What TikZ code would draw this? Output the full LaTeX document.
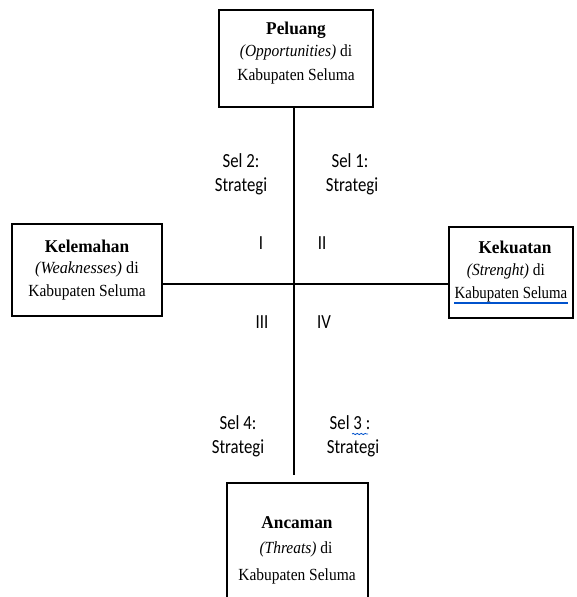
\documentclass[tikz,border=0pt]{standalone}
\usepackage{fontspec}
\setmainfont{Liberation Serif}
\newfontfamily\lblfont{Carlito}
\usetikzlibrary{decorations.pathmorphing}
\begin{document}
\begin{tikzpicture}[x=1pt,y=-1pt,
  box/.style={draw,line width=2.6pt,fill=white},
  axis/.style={line width=2.6pt},
  ttl/.style={font=\fontsize{18}{20}\selectfont\bfseries,xscale=0.96},
  txt/.style={font=\fontsize{17}{18}\selectfont,xscale=0.91},
  lbl/.style={font=\lblfont\fontsize{20}{22}\selectfont,xscale=0.84}]
\useasboundingbox (0,0) rectangle (577,597);
\begin{scope}
\clip (0,0) rectangle (577,597);
\coordinate (c) at (294,284);
\draw[box] (219,10) rectangle (373,107);
\coordinate (pb) at (294,107);
\draw[box] (12,224) rectangle (162,316);
\coordinate (lr) at (162,284);
\draw[box] (449,227) rectangle (573,318);
\coordinate (rl) at (449,284);
\draw[box] (227,483) rectangle (368,620);
\coordinate (at) at (294,475);
\draw[axis] (pb) -- (at);
\draw[axis] (lr) -- (rl);
\end{scope}
% top box texts
\node[ttl] (p1) at (296,30) {Peluang};
\node[txt] (p2) at (296,52) {\itshape (Opportunities)\upshape{} di};
\node[txt] (p3) at (296,76) {Kabupaten Seluma};
% left
\node[ttl] (l1) at (87,246) {Kelemahan};
\node[txt,xscale=1.05] (l2) at (87,269) {\itshape (Weaknesses)\upshape{} di};
\node[txt] (l3) at (87,292) {Kabupaten Seluma};
% right
\node[ttl] (r1) at (515,247) {Kekuatan};
\node[txt] (r2) at (506,271) {\itshape (Strenght)\upshape{} di};
\node[txt,xscale=0.96] (r3) at (511,294) {Kabupaten Seluma};
\draw[blue!60!cyan!80!black,line width=1.1pt] (454,303) -- (568,303);
% bottom
\node[ttl] (a1) at (297,523) {Ancaman};
\node[txt] (a2) at (296,549) {\itshape (Threats)\upshape{} di};
\node[txt] (a3) at (297,576) {Kabupaten Seluma};
% quadrant labels
\node[lbl] (s2a) at (241,161) {Sel 2:};
\node[lbl] (s2b) at (241,186) {Strategi};
\node[lbl] (s1a) at (350,161) {Sel 1:};
\node[lbl] (s1b) at (352,186) {Strategi};
\node[lbl] (q1) at (261,243) {I};
\node[lbl] (q2) at (322,243) {II};
\node[lbl] (q3) at (262,322) {III};
\node[lbl] (q4) at (324,322) {IV};
\node[lbl] (s4a) at (238,423) {Sel 4:};
\node[lbl] (s4b) at (238,448) {Strategi};
\node[lbl] (s3a) at (350,423) {Sel 3 :};
\node[lbl] (s3b) at (353,448) {Strategi};
\draw[blue!60!cyan!80!black,line width=0.8pt,decorate,decoration={snake,amplitude=0.6pt,segment length=4pt}] (352,434) -- (368,434);
\end{tikzpicture}
\end{document}
